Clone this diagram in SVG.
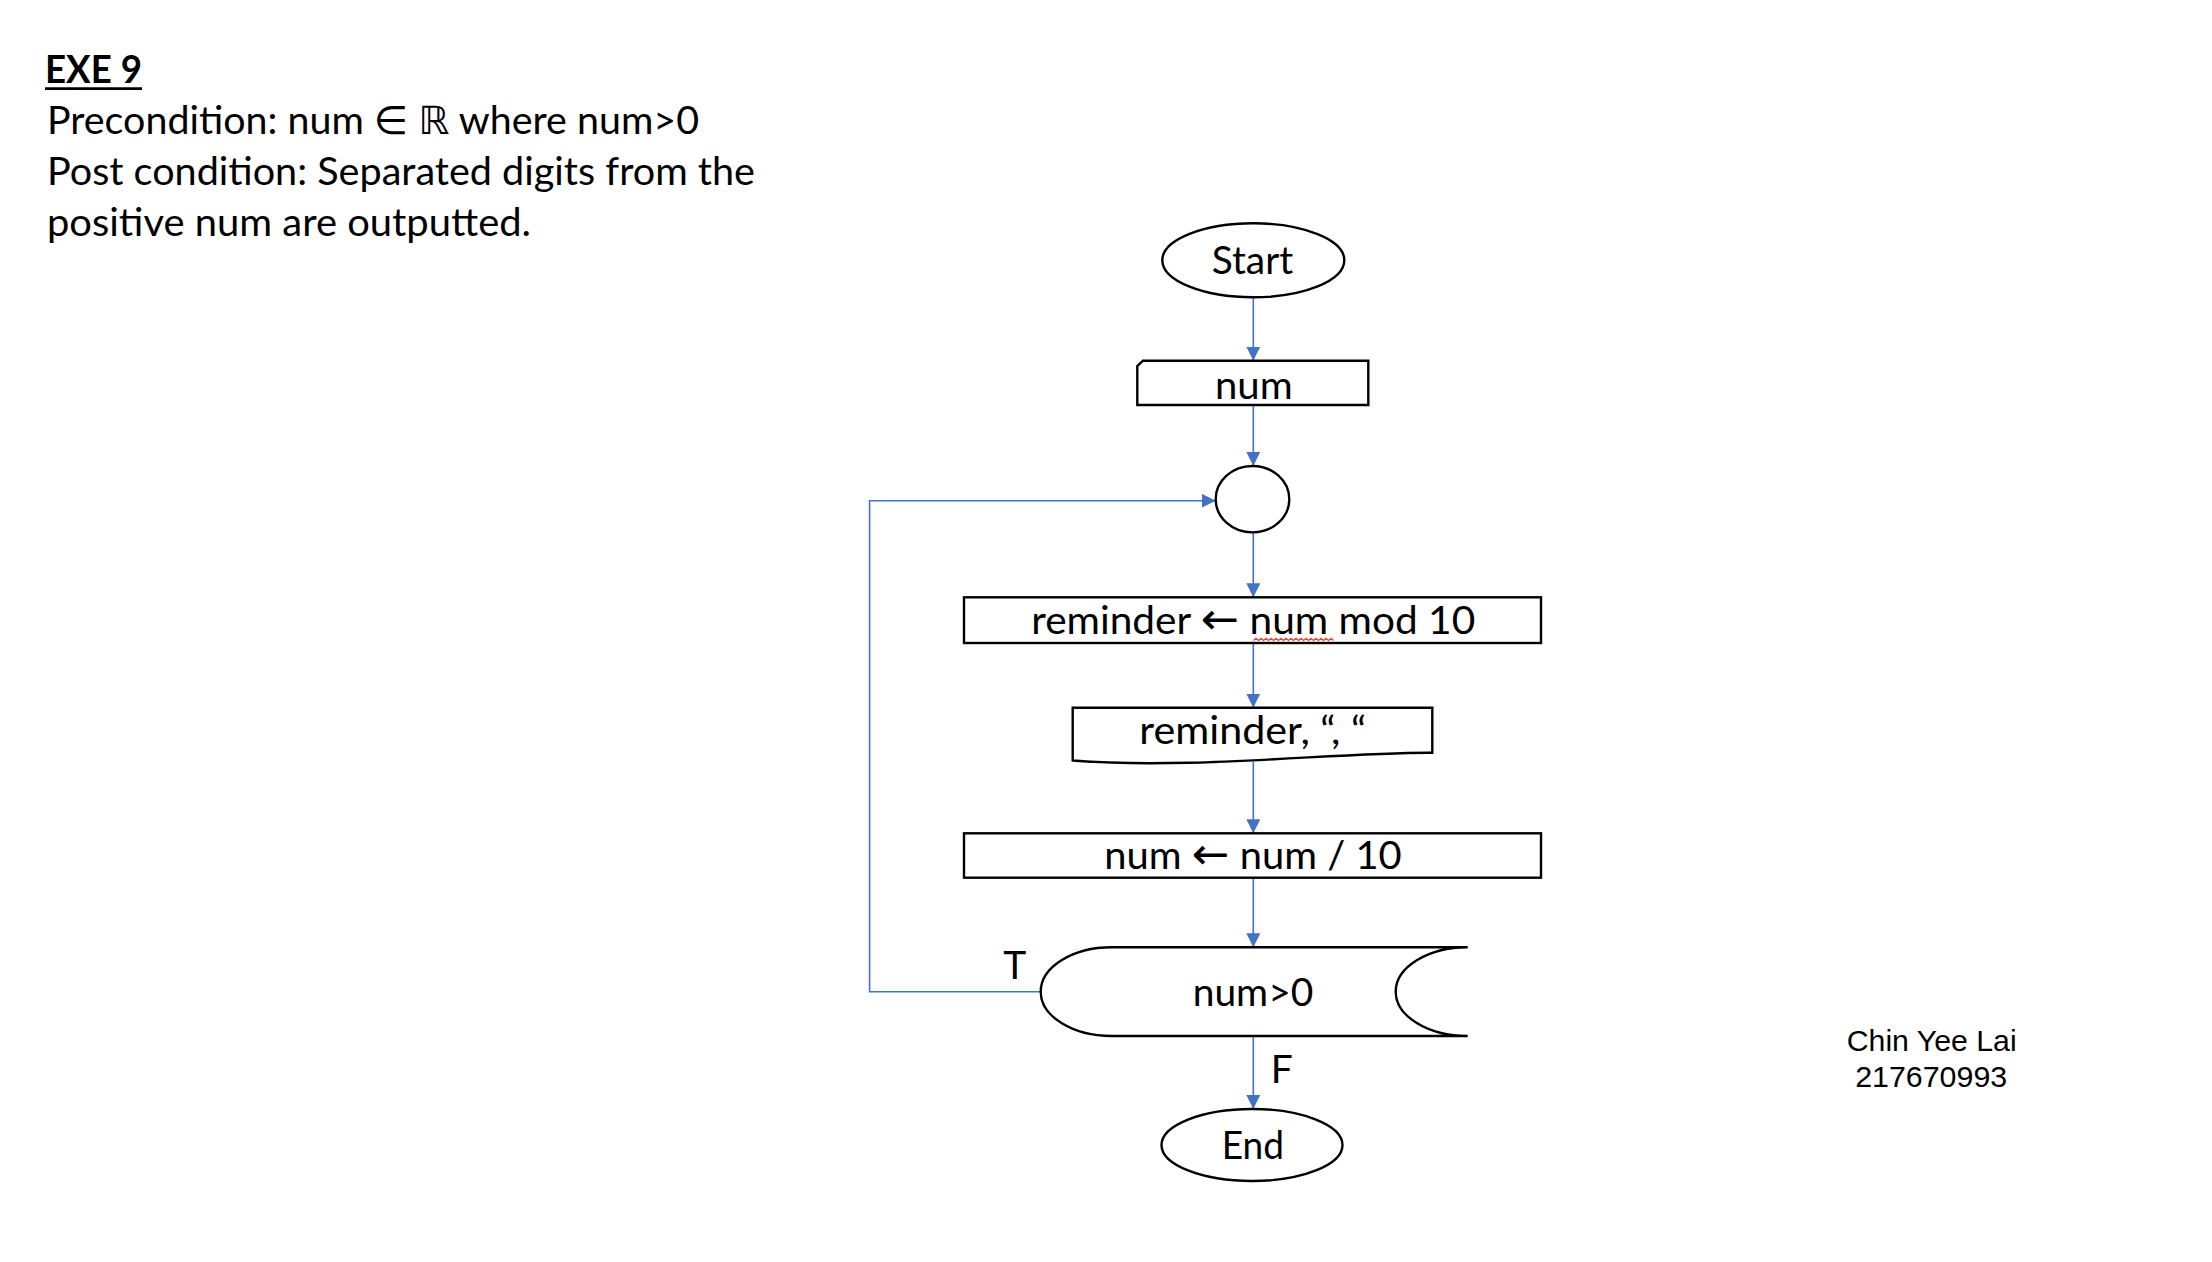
<svg xmlns="http://www.w3.org/2000/svg" width="2212" height="1262" viewBox="0 0 2212 1262">
<defs>
<style>
.t{font-family:Lato,"Liberation Sans","DejaVu Sans",sans-serif;font-size:39px;fill:#000}
.h{font-family:Lato,"Liberation Sans","DejaVu Sans",sans-serif;font-size:39px;fill:#000}
.n{font-family:"Liberation Sans",Arial,sans-serif;font-size:29.5px;fill:#000}
.ar{font-family:"DejaVu Sans",sans-serif;font-size:44px}
.s{fill:#fff;stroke:#000;stroke-width:2.4}
.c{fill:none;stroke:#4472C4;stroke-width:1.6}
</style>
<marker id="ah" markerUnits="userSpaceOnUse" markerWidth="14" markerHeight="14" refX="14" refY="7" orient="auto">
<path d="M0,0 L14,7 L0,14 Z" fill="#4472C4"/>
</marker>
</defs>
<rect width="2212" height="1262" fill="#fff"/>

<g id="header">
<text class="h" x="45" y="82.7" font-weight="bold" textLength="97" lengthAdjust="spacingAndGlyphs">EXE 9</text>
<line x1="45" y1="88.6" x2="142" y2="88.6" stroke="#000" stroke-width="2.6"/>
<text class="h" x="47" y="134.3" textLength="652" lengthAdjust="spacingAndGlyphs">Precondition: num ∈ ℝ where num&gt;0</text>
<text class="h" x="47" y="185.3" textLength="708" lengthAdjust="spacingAndGlyphs">Post condition: Separated digits from the</text>
<text class="h" x="47" y="236" textLength="484" lengthAdjust="spacingAndGlyphs">positive num are outputted.</text>
</g>

<g id="author">
<text class="n" x="1931.7" y="1050.7" text-anchor="middle" textLength="170" lengthAdjust="spacingAndGlyphs">Chin Yee Lai</text>
<text class="n" x="1931.2" y="1087.3" text-anchor="middle" textLength="152" lengthAdjust="spacingAndGlyphs">217670993</text>
</g>

<g id="connectors">
<path class="c" d="M1253.3,297.3 V360.7" marker-end="url(#ah)"/>
<path class="c" d="M1253.3,405 V466" marker-end="url(#ah)"/>
<path class="c" d="M1253.3,532.4 V597.3" marker-end="url(#ah)"/>
<path class="c" d="M1253.3,643 V707.7" marker-end="url(#ah)"/>
<path class="c" d="M1253.3,762 V833.3" marker-end="url(#ah)"/>
<path class="c" d="M1253.3,877.7 V947.3" marker-end="url(#ah)"/>
<path class="c" d="M1253.3,1036 V1109" marker-end="url(#ah)"/>
<path class="c" d="M1040.7,991.7 H869.6 V500.7 H1215.7" marker-end="url(#ah)"/>
<text class="t" x="1003.3" y="979">T</text>
<text class="t" x="1270.7" y="1083">F</text>
</g>

<g id="start">
<ellipse class="s" cx="1253.3" cy="260.3" rx="91" ry="37"/>
<text class="t" x="1252.5" y="274" text-anchor="middle" textLength="81.6" lengthAdjust="spacingAndGlyphs">Start</text>
</g>

<g id="input-num">
<path class="s" d="M1137.3,405 V366 L1143,360.7 H1368.3 V405 Z"/>
<text class="t" x="1253.8" y="399.3" text-anchor="middle" textLength="77.7" lengthAdjust="spacingAndGlyphs">num</text>
</g>

<g id="connector-circle">
<ellipse class="s" cx="1252.5" cy="499.2" rx="36.8" ry="33.2"/>
</g>

<g id="assign-reminder">
<rect class="s" x="964" y="597.3" width="577" height="45.7"/>
<text class="t" x="1253.2" y="634" text-anchor="middle" textLength="444" lengthAdjust="spacingAndGlyphs">reminder <tspan class="ar">←</tspan> num mod 10</text>
<path d="M1253.5,640.5 l2.5,-2.2 2.5,2.2 2.5,-2.2 2.5,2.2 2.5,-2.2 2.5,2.2 2.5,-2.2 2.5,2.2 2.5,-2.2 2.5,2.2 2.5,-2.2 2.5,2.2 2.5,-2.2 2.5,2.2 2.5,-2.2 2.5,2.2 2.5,-2.2 2.5,2.2 2.5,-2.2 2.5,2.2 2.5,-2.2 2.5,2.2 2.5,-2.2 2.5,2.2 2.5,-2.2 2.5,2.2 2.5,-2.2 2.5,2.2 2.5,-2.2 2.5,2.2 2.5,-2.2 2.5,2.2" fill="none" stroke="#e8453c" stroke-width="1.2"/>
</g>

<g id="output-reminder">
<path class="s" d="M1072.7,707.7 H1432.3 V752.7 C1340,752 1190,770 1072.7,760.5 Z"/>
<text class="t" x="1252.7" y="744" text-anchor="middle" textLength="226.7" lengthAdjust="spacingAndGlyphs">reminder, “, “</text>
</g>

<g id="assign-num">
<rect class="s" x="964" y="833.3" width="577" height="44.4"/>
<text class="t" x="1253" y="869.3" text-anchor="middle" textLength="297.4" lengthAdjust="spacingAndGlyphs">num <tspan class="ar">←</tspan> num / 10</text>
</g>

<g id="decision">
<path class="s" d="M1111.7,947.3 H1467.7 A72,44.35 0 0 0 1467.7,1036 H1111.7 A71,44.35 0 0 1 1111.7,947.3 Z"/>
<text class="t" x="1253" y="1006" text-anchor="middle" textLength="120.6" lengthAdjust="spacingAndGlyphs">num&gt;0</text>
</g>

<g id="end">
<ellipse class="s" cx="1252" cy="1145" rx="90.5" ry="36"/>
<text class="t" x="1252.8" y="1159.3" text-anchor="middle" textLength="62.3" lengthAdjust="spacingAndGlyphs">End</text>
</g>
</svg>
